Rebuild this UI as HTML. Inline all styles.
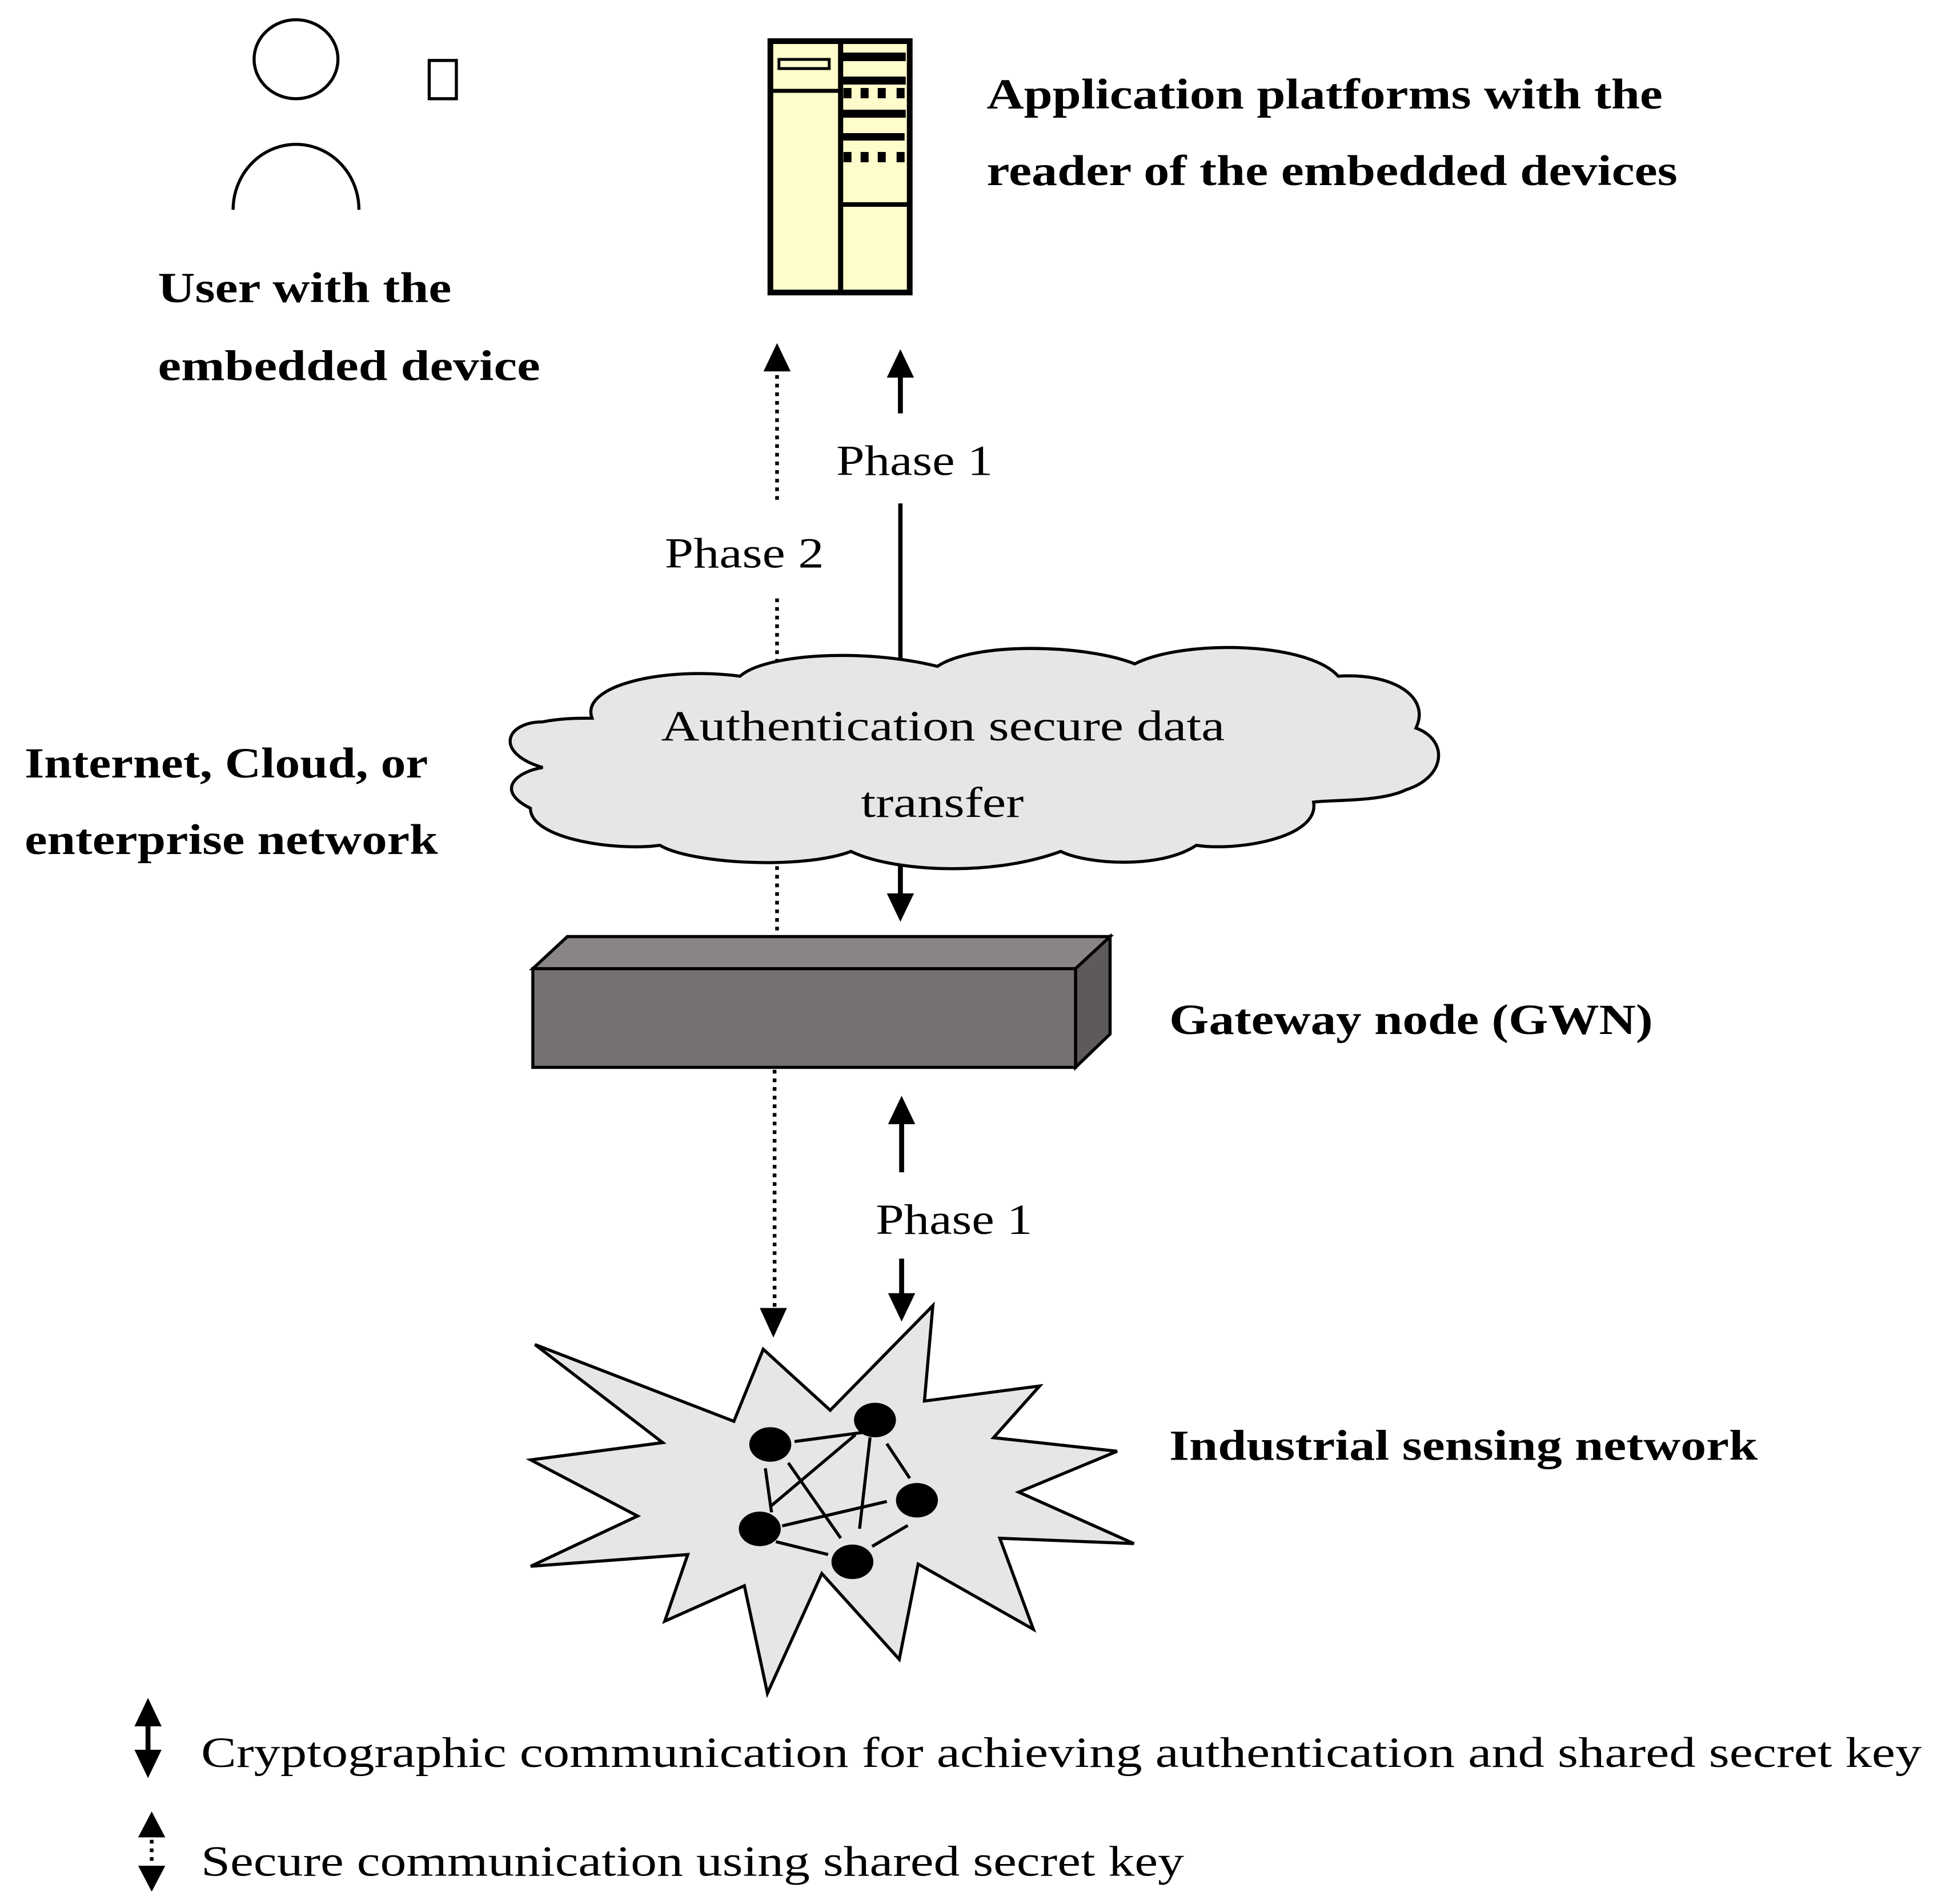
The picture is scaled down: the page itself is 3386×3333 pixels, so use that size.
<!DOCTYPE html>
<html><head><style>
html,body{margin:0;padding:0;background:#fff;}
svg{display:block;}
text{font-family:"Liberation Serif",serif;fill:#000;}
.b{font-weight:bold;font-size:35px;}
.n{font-size:35px;}
</style></head><body>
<svg width="3386" height="3333" viewBox="0 0 1568 1543" preserveAspectRatio="none" xmlns="http://www.w3.org/2000/svg">
<!-- person -->
<ellipse cx="240" cy="48" rx="34" ry="32" fill="#fff" stroke="#000" stroke-width="2.5"/>
<path d="M189,170 A51,53 0 0 1 291,170" fill="none" stroke="#000" stroke-width="2.5"/>
<rect x="348" y="49" width="22" height="31" fill="#fff" stroke="#000" stroke-width="2.5"/>
<text class="b" x="128" y="245" textLength="238" lengthAdjust="spacingAndGlyphs">User with the</text>
<text class="b" x="128" y="308" textLength="310" lengthAdjust="spacingAndGlyphs">embedded device</text>
<!-- server -->
<g transform="scale(0.4630)">
<rect x="1349" y="72" width="244" height="440" fill="#fffccc" stroke="#000" stroke-width="10"/>
<line x1="1472" y1="72" x2="1472" y2="512" stroke="#000" stroke-width="9"/>
<line x1="1349" y1="159" x2="1472" y2="159" stroke="#000" stroke-width="7"/>
<line x1="1472" y1="358" x2="1593" y2="358" stroke="#000" stroke-width="8"/>
<rect x="1364" y="104" width="88" height="16" fill="#fffccc" stroke="#000" stroke-width="5"/>
<rect x="1476" y="92" width="110" height="15" fill="#000"/>
<rect x="1476" y="134" width="110" height="14" fill="#000"/>
<rect x="1476" y="192" width="110" height="14" fill="#000"/>
<rect x="1476" y="233" width="108" height="13" fill="#000"/>
<g fill="#000"><rect x="1477" y="154" width="14" height="18"/><rect x="1507" y="154" width="14" height="18"/><rect x="1537" y="154" width="14" height="18"/><rect x="1570" y="154" width="14" height="18"/>
<rect x="1477" y="266" width="14" height="18"/><rect x="1507" y="266" width="14" height="18"/><rect x="1537" y="266" width="14" height="18"/><rect x="1570" y="266" width="14" height="18"/></g>
</g>
<text class="b" x="800" y="88" textLength="548" lengthAdjust="spacingAndGlyphs">Application platforms with the</text>
<text class="b" x="800" y="150" textLength="560" lengthAdjust="spacingAndGlyphs">reader of the embedded devices</text>
<!-- arrows top -->
<line x1="630" y1="405" x2="630" y2="300" stroke="#000" stroke-width="3" stroke-dasharray="3,4"/>
<polygon points="630,278 619,301 641,301"/>
<line x1="630" y1="485" x2="630" y2="545" stroke="#000" stroke-width="3" stroke-dasharray="3,4"/>
<text class="n" x="539" y="460" textLength="129" lengthAdjust="spacingAndGlyphs">Phase 2</text>
<line x1="730" y1="335" x2="730" y2="303" stroke="#000" stroke-width="4"/>
<polygon points="730,283 719,306 741,306"/>
<text class="n" x="678" y="385" textLength="127" lengthAdjust="spacingAndGlyphs">Phase 1</text>
<line x1="730" y1="408" x2="730" y2="535" stroke="#000" stroke-width="3.5"/>
<!-- cloud -->
<path d="M480,582 C470,555 540,540 600,548 C620,530 700,525 760,540 C790,520 880,522 920,538 C960,518 1060,520 1085,548 C1130,545 1160,565 1148,590 C1175,600 1172,630 1140,640 C1120,650 1080,648 1065,650 C1070,680 1000,690 970,685 C940,705 880,700 860,690 C800,712 720,705 690,690 C650,705 560,700 535,685 C500,690 430,680 430,655 C400,640 420,625 440,622 C400,610 410,585 440,585 C455,582 470,582 480,582 Z" fill="#e6e6e6" stroke="#000" stroke-width="2.5"/>
<text class="n" x="536" y="600" textLength="457" lengthAdjust="spacingAndGlyphs">Authentication secure data</text>
<text class="n" x="698" y="662" textLength="132" lengthAdjust="spacingAndGlyphs">transfer</text>
<text class="b" x="20" y="630" textLength="327" lengthAdjust="spacingAndGlyphs">Internet, Cloud, or</text>
<text class="b" x="20" y="692" textLength="335" lengthAdjust="spacingAndGlyphs">enterprise network</text>
<!-- below cloud -->
<line x1="630" y1="702" x2="630" y2="755" stroke="#000" stroke-width="3" stroke-dasharray="3,4"/>
<line x1="730" y1="700" x2="730" y2="726" stroke="#000" stroke-width="4"/>
<polygon points="730,747 719,724 741,724"/>
<!-- gateway -->
<polygon points="432,785 460,759 900,759 872,785" fill="#8a8585" stroke="#000" stroke-width="2.5"/>
<polygon points="872,785 900,759 900,838 872,865" fill="#5e5a5a" stroke="#000" stroke-width="2.5"/>
<rect x="432" y="785" width="440" height="80" fill="#767171" stroke="#000" stroke-width="2.5"/>
<text class="b" x="948" y="838" textLength="392" lengthAdjust="spacingAndGlyphs">Gateway node (GWN)</text>
<!-- below gateway -->
<line x1="628" y1="867" x2="628" y2="1062" stroke="#000" stroke-width="3" stroke-dasharray="3,4"/>
<polygon points="627,1084 616,1060 638,1060"/>
<line x1="731" y1="950" x2="731" y2="908" stroke="#000" stroke-width="4"/>
<polygon points="731,888 720,911 742,911"/>
<text class="n" x="710" y="1000" textLength="127" lengthAdjust="spacingAndGlyphs">Phase 1</text>
<line x1="731" y1="1020" x2="731" y2="1050" stroke="#000" stroke-width="4"/>
<polygon points="731,1071 720,1048 742,1048"/>
<!-- starburst -->
<polygon points="433.7,1089.6 537.3,1169.1 430.3,1183.1 516.9,1228.6 430.3,1269.3 557.6,1259.8 539,1313.8 603.5,1285.1 622.2,1372.2 666.3,1275.2 729.1,1344.7 744.4,1267.5 837.8,1320.4 810.6,1246.6 919.3,1250.9 825.9,1209.2 905.7,1176.1 805.5,1165.1 842.9,1123.2 749.5,1135.4 756.3,1058.1 673.1,1142.9 618.8,1093.4 595,1151.8" fill="#e6e6e6" stroke="#000" stroke-width="2.5"/>
<g stroke="#000" stroke-width="2.5">
<line x1="644.2" y1="1168.2" x2="702" y2="1160.5"/>
<line x1="620.5" y1="1189.9" x2="625.5" y2="1225.6"/>
<line x1="639.1" y1="1185.5" x2="681.6" y2="1246.5"/>
<line x1="625.5" y1="1220.1" x2="693.5" y2="1162.8"/>
<line x1="705.4" y1="1164.9" x2="696.9" y2="1238.9"/>
<line x1="719" y1="1170" x2="737.6" y2="1198"/>
<line x1="634.1" y1="1236.6" x2="719" y2="1216.8"/>
<line x1="629" y1="1249.4" x2="671.4" y2="1259.8"/>
<line x1="707.1" y1="1253.2" x2="736" y2="1236.2"/>
</g>
<g fill="#000">
<ellipse cx="624.5" cy="1170.6" rx="17" ry="14"/>
<ellipse cx="709.4" cy="1150.8" rx="17" ry="14"/>
<ellipse cx="743.4" cy="1215.8" rx="17" ry="14"/>
<ellipse cx="616" cy="1239" rx="17" ry="14"/>
<ellipse cx="691.1" cy="1265.7" rx="17" ry="14"/>
</g>
<text class="b" x="948" y="1183" textLength="477" lengthAdjust="spacingAndGlyphs">Industrial sensing network</text>
<!-- legend -->
<polygon points="120,1376 109,1399 131,1399"/>
<line x1="120" y1="1396" x2="120" y2="1420" stroke="#000" stroke-width="4"/>
<polygon points="120,1441 109,1418 131,1418"/>
<text class="n" x="163" y="1432" textLength="1395" lengthAdjust="spacingAndGlyphs">Cryptographic communication for achieving authentication and shared secret key</text>
<polygon points="123,1468 112,1489 134,1489"/>
<line x1="123" y1="1491" x2="123" y2="1512" stroke="#000" stroke-width="3" stroke-dasharray="3,4"/>
<polygon points="123,1533 112,1512 134,1512"/>
<text class="n" x="163" y="1520" textLength="797" lengthAdjust="spacingAndGlyphs">Secure communication using shared secret key</text>
</svg>
</body></html>
